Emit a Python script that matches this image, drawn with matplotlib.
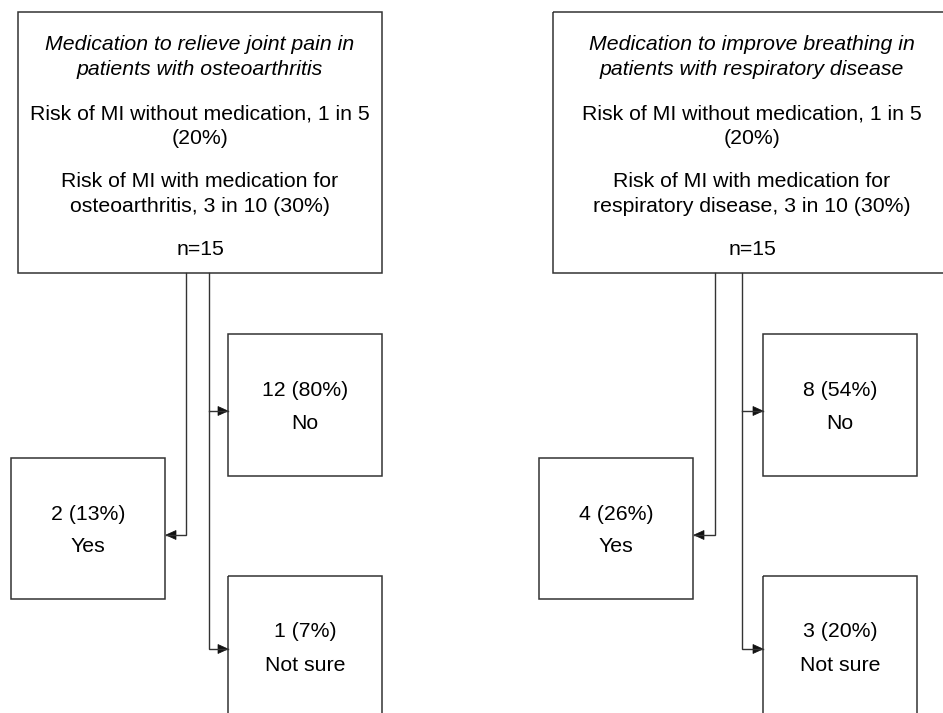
import matplotlib
matplotlib.use("Agg")
import matplotlib.pyplot as plt
from matplotlib.patches import Rectangle, Polygon

# ---- data ----
panel_titles = ["Medication to relieve joint pain in\npatients with osteoarthritis",
                "Medication to improve breathing in\npatients with respiratory disease"]
risk_without = ["Risk of MI without medication, 1 in 5\n(20%)",
                "Risk of MI without medication, 1 in 5\n(20%)"]
risk_with = ["Risk of MI with medication for\nosteoarthritis, 3 in 10 (30%)",
             "Risk of MI with medication for\nrespiratory disease, 3 in 10 (30%)"]
n_total = [15, 15]
categories = ["Yes", "No", "Not sure"]
yes_counts = [2, 4]
yes_pcts = [13, 26]
no_counts = [12, 8]
no_pcts = [80, 54]
notsure_counts = [1, 3]
notsure_pcts = [7, 20]

# ---- layout (pixels) ----
W, H = 943, 713
fig = plt.figure(figsize=(W / 100, H / 100), dpi=100)
ax = fig.add_axes([0, 0, 1, 1])
ax.set_xlim(0, W)
ax.set_ylim(H, 0)
ax.axis("off")

FONT = "Liberation Sans"
FS = 15.3
EC = "#333333"
LW_BOX = 1.1
LW_LINE = 1.0

panel_offsets = [0, 535]   # x shift of each panel


def box(x0, y0, x1, y1):
    ax.add_patch(Rectangle((x0, y0), x1 - x0, y1 - y0, fill=False,
                           edgecolor=EC, linewidth=LW_BOX, clip_on=False))


def arrow_head(x, y, direction):
    L, hw = 10, 4.5
    if direction == "right":
        pts = [(x, y), (x - L, y - hw), (x - L, y + hw)]
    else:
        pts = [(x, y), (x + L, y - hw), (x + L, y + hw)]
    ax.add_patch(Polygon(pts, closed=True, facecolor="#111111",
                         edgecolor="#111111", linewidth=0.5))


def lines_text(xc, baselines, text, style="normal"):
    for yb, line in zip(baselines, text.split("\n")):
        ax.text(xc, yb, line, ha="center", va="baseline", fontsize=FS,
                family=FONT, style=style, color="black")


for i, dx in enumerate(panel_offsets):
    # top box
    top_l, top_r, top_t, top_b = 18 + dx, 382 + dx, 12, 273
    if i == 1:
        top_r = 960  # runs off the right edge
    box(top_l, top_t, top_r, top_b)
    xc = 200 + dx if i == 0 else 752
    lines_text(xc, [50, 75], panel_titles[i], style="italic")
    lines_text(xc, [119, 144], risk_without[i])
    lines_text(xc, [187, 212], risk_with[i])
    lines_text(xc, [255], f"n={n_total[i]}")

    # connectors
    xl = 186 + dx if i == 0 else 715
    xr = 209 + dx if i == 0 else 742
    yes_l, yes_r = (11 + dx, 165 + dx) if i == 0 else (539, 693)
    right_l, right_r = (228 + dx, 382 + dx) if i == 0 else (763, 917)

    # to Yes
    ax.plot([xl, xl, yes_r + 1], [top_b, 535, 535], color=EC, lw=LW_LINE,
            solid_joinstyle="miter")
    arrow_head(yes_r + 1, 535, "left")
    # to No and Not sure
    ax.plot([xr, xr, right_l], [top_b, 649, 649], color=EC, lw=LW_LINE,
            solid_joinstyle="miter")
    ax.plot([xr, right_l], [411, 411], color=EC, lw=LW_LINE)
    arrow_head(right_l, 411, "right")
    arrow_head(right_l, 649, "right")

    # No box
    box(right_l, 334, right_r, 476)
    xc_r = (right_l + right_r) / 2
    lines_text(xc_r, [396, 429], f"{no_counts[i]} ({no_pcts[i]}%)\n{categories[1]}")
    # Yes box
    box(yes_l, 458, yes_r, 599)
    xc_y = (yes_l + yes_r) / 2
    lines_text(xc_y, [520, 552], f"{yes_counts[i]} ({yes_pcts[i]}%)\n{categories[0]}")
    # Not sure box (runs off the bottom)
    box(right_l, 576, right_r, 740)
    lines_text(xc_r, [637, 671],
               f"{notsure_counts[i]} ({notsure_pcts[i]}%)\n{categories[2]}")

fig.savefig("out.png", dpi=100, facecolor="white")
